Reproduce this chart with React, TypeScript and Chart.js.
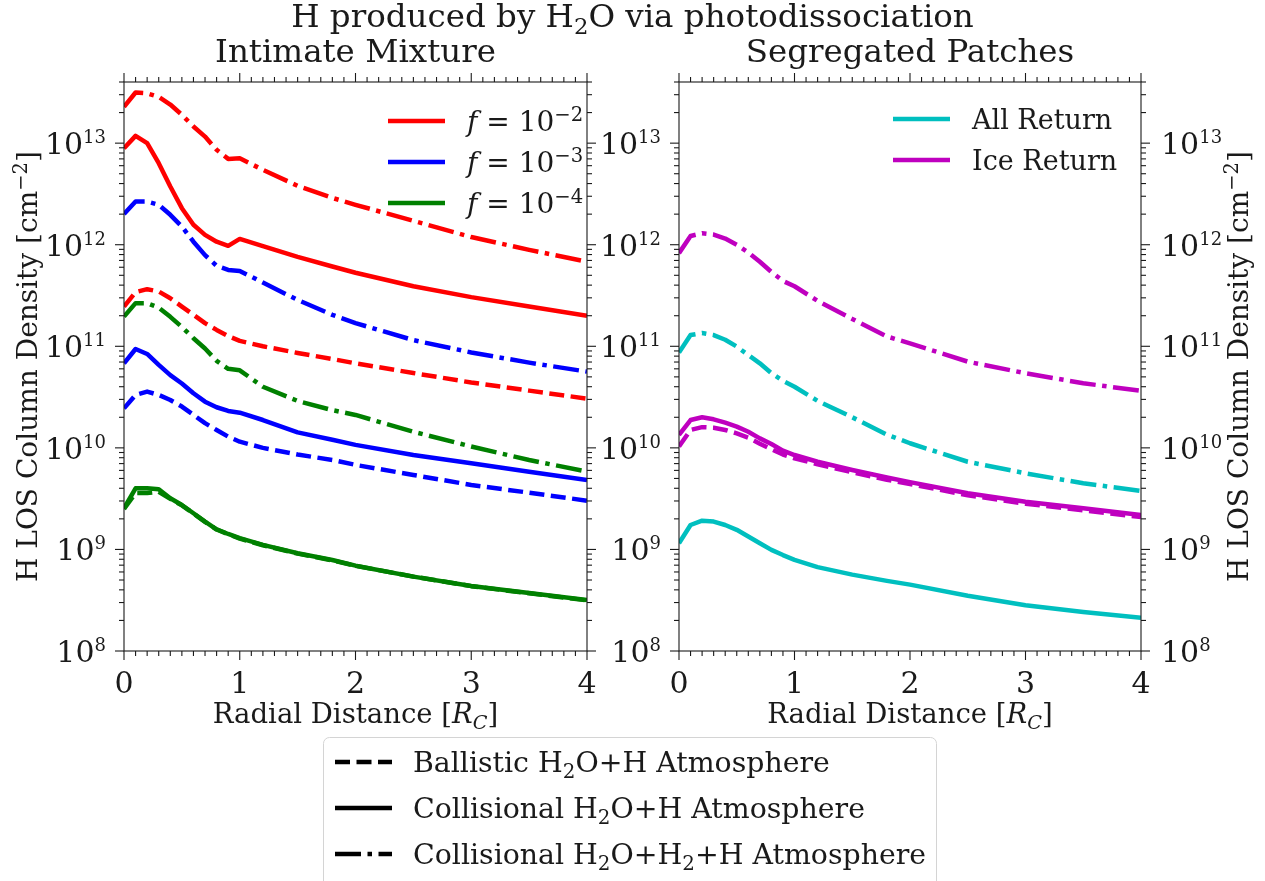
import React, { useEffect, useRef } from 'react';
import { Chart, registerables } from 'chart.js';

Chart.register(...registerables);

// ---------------- data ----------------
const radialDistance = [0, 0.1, 0.2, 0.3, 0.4, 0.5, 0.6, 0.7, 0.8, 0.9, 1.0, 1.2, 1.5, 1.8, 2.0, 2.5, 3.0, 3.5, 4.0];

// Intimate mixture, f = 1e-2
const f2Ballistic = [2.46e11, 3.41e11, 3.65e11, 3.46e11, 2.97e11, 2.46e11, 2.04e11, 1.69e11, 1.45e11, 1.26e11, 1.13e11, 1.0e11, 8.6e10, 7.5e10, 6.8e10, 5.45e10, 4.4e10, 3.66e10, 3.05e10];
const f2Collisional = [8.9e12, 1.18e13, 1.0e13, 6.35e12, 3.74e12, 2.29e12, 1.57e12, 1.25e12, 1.07e12, 9.75e11, 1.14e12, 9.7e11, 7.6e11, 6.1e11, 5.3e11, 3.9e11, 3.05e11, 2.46e11, 2.0e11];
const f2CollisionalH2 = [2.28e13, 3.15e13, 3.1e13, 2.85e13, 2.4e13, 1.9e13, 1.46e13, 1.16e13, 8.6e12, 7.0e12, 7.1e12, 5.46e12, 3.8e12, 2.89e12, 2.47e12, 1.72e12, 1.19e12, 8.9e11, 6.8e11];
// f = 1e-3
const f3Ballistic = [2.45e10, 3.32e10, 3.58e10, 3.32e10, 2.96e10, 2.55e10, 2.11e10, 1.75e10, 1.5e10, 1.29e10, 1.15e10, 1.0e10, 8.6e9, 7.6e9, 6.8e9, 5.41e9, 4.31e9, 3.62e9, 3.02e9];
const f3Collisional = [6.8e10, 9.4e10, 8.4e10, 6.56e10, 5.2e10, 4.3e10, 3.45e10, 2.85e10, 2.51e10, 2.31e10, 2.22e10, 1.88e10, 1.42e10, 1.2e10, 1.07e10, 8.5e9, 7.06e9, 5.83e9, 4.83e9];
const f3CollisionalH2 = [2.01e12, 2.66e12, 2.66e12, 2.47e12, 1.97e12, 1.51e12, 1.07e12, 7.9e11, 6.2e11, 5.65e11, 5.52e11, 4.24e11, 2.86e11, 2.04e11, 1.69e11, 1.15e11, 8.7e10, 6.9e10, 5.63e10];
// f = 1e-4
const f4Ballistic = [2.5e9, 3.6e9, 3.6e9, 3.7e9, 3.15e9, 2.72e9, 2.26e9, 1.87e9, 1.57e9, 1.41e9, 1.28e9, 1.1e9, 9.1e8, 7.8e8, 6.9e8, 5.4e8, 4.35e8, 3.7e8, 3.15e8];
const f4Collisional = [2.54e9, 4.0e9, 4.0e9, 3.91e9, 3.19e9, 2.74e9, 2.27e9, 1.88e9, 1.58e9, 1.42e9, 1.29e9, 1.11e9, 9.16e8, 7.87e8, 6.92e8, 5.4e8, 4.37e8, 3.72e8, 3.18e8];
const f4CollisionalH2 = [1.96e11, 2.66e11, 2.66e11, 2.4e11, 1.95e11, 1.55e11, 1.2e11, 9.5e10, 7.2e10, 6.0e10, 5.8e10, 4.0e10, 2.9e10, 2.35e10, 2.11e10, 1.44e10, 1.03e10, 7.6e9, 5.83e9];

// Segregated patches
const allCollisional = [1.15e9, 1.74e9, 1.92e9, 1.88e9, 1.74e9, 1.56e9, 1.34e9, 1.15e9, 9.9e8, 8.8e8, 7.9e8, 6.7e8, 5.65e8, 4.9e8, 4.5e8, 3.5e8, 2.82e8, 2.42e8, 2.13e8];
const allCollisionalH2 = [8.67e10, 1.29e11, 1.35e11, 1.29e11, 1.16e11, 9.93e10, 8.2e10, 6.8e10, 5.43e10, 4.56e10, 4.0e10, 2.9e10, 2.0e10, 1.35e10, 1.11e10, 7.3e9, 5.62e9, 4.48e9, 3.77e9];
const iceBallistic = [1.03e10, 1.5e10, 1.6e10, 1.58e10, 1.5e10, 1.39e10, 1.26e10, 1.1e10, 9.7e9, 8.6e9, 7.9e9, 6.9e9, 5.75e9, 4.85e9, 4.4e9, 3.42e9, 2.82e9, 2.42e9, 2.08e9];
const iceCollisional = [1.34e10, 1.88e10, 2.0e10, 1.91e10, 1.77e10, 1.62e10, 1.44e10, 1.24e10, 1.09e10, 9.4e9, 8.5e9, 7.3e9, 6.06e9, 5.1e9, 4.6e9, 3.57e9, 2.95e9, 2.54e9, 2.18e9];
const iceCollisionalH2 = [8.26e11, 1.22e12, 1.3e12, 1.26e12, 1.15e12, 1.0e12, 8.4e11, 6.8e11, 5.4e11, 4.4e11, 3.9e11, 2.8e11, 1.86e11, 1.25e11, 1.07e11, 7.06e10, 5.43e10, 4.33e10, 3.64e10];

// axes / ticks
const xMajorTicks = [0, 1, 2, 3, 4];
const xTickLabels = ['0', '1', '2', '3', '4'];
const yMajorExponents = [8, 9, 10, 11, 12, 13];
const X_MIN = 0;
const X_MAX = 4;
const Y_MIN = 1e8;
const Y_MAX = 4e13;

const fractionExponents = ['\u22122', '\u22123', '\u22124'];
const patchLabels = ['All Return', 'Ice Return'];

// ---------------- styles ----------------
const W = 1265;
const H = 881;
const FONT = '"DejaVu Serif", "Liberation Serif", serif';
const LINE_W = 4.5;
const SOLID: number[] = [];
const DASHED = [15, 6.5];
const DASHDOT = [26, 6.5, 4.5, 6.5];
const RED = '#ff0000';
const BLUE = '#0000ff';
const GREEN = '#008000';
const CYAN = '#00bfbf';
const MAGENTA = '#bf00bf';
const INK = '#1a1a1a';

type Seg = { t: string; sup?: boolean; sub?: boolean; it?: boolean };

function drawRich(
  ctx: CanvasRenderingContext2D,
  segs: Seg[],
  x: number,
  y: number,
  size: number,
  align: 'left' | 'center' | 'right',
  supScale = 0.7,
  supRise = 0.36
) {
  const parts = segs.map((s) => {
    const sz = s.sup ? size * supScale : s.sub ? size * 0.7 : size;
    const font = `${s.it ? 'italic ' : ''}${sz}px ${FONT}`;
    ctx.font = font;
    return { t: s.t, font, w: ctx.measureText(s.t).width, dy: s.sup ? -size * supRise : s.sub ? size * 0.2 : 0 };
  });
  const total = parts.reduce((a, p) => a + p.w, 0);
  let cx = align === 'left' ? x : align === 'center' ? x - total / 2 : x - total;
  ctx.textAlign = 'left';
  ctx.textBaseline = 'alphabetic';
  for (const p of parts) {
    ctx.font = p.font;
    ctx.fillText(p.t, cx, y + p.dy);
    cx += p.w;
  }
  return total;
}

function sampleLine(ctx: CanvasRenderingContext2D, x1: number, x2: number, y: number, color: string, dash: number[]) {
  ctx.save();
  ctx.strokeStyle = color;
  ctx.lineWidth = LINE_W;
  ctx.setLineDash(dash);
  ctx.lineCap = 'butt';
  ctx.beginPath();
  ctx.moveTo(x1, y);
  ctx.lineTo(x2, y);
  ctx.stroke();
  ctx.restore();
}

function series(label: string, values: number[], color: string, dash: number[]) {
  return {
    label,
    data: radialDistance.map((x, i) => ({ x, y: values[i] })),
    borderColor: color,
    backgroundColor: color,
    borderWidth: LINE_W,
    borderDash: dash,
    borderCapStyle: 'butt' as const,
    borderJoinStyle: 'round' as const,
    pointRadius: 0,
    pointHoverRadius: 0,
    fill: false,
    tension: 0,
    clip: 0,
  };
}

type PanelCfg = {
  id: string;
  subtitle: string;
  leftLabels: boolean;
  rightLabels: boolean;
  leftTitle: boolean;
  rightTitle: boolean;
  legend: (ctx: CanvasRenderingContext2D, a: any) => void;
  figure: boolean;
};

const yTitle: Seg[] = [{ t: 'H LOS Column Density [cm' }, { t: '\u22122', sup: true }, { t: ']' }];
const xTitle: Seg[] = [{ t: 'Radial Distance [' }, { t: 'R', it: true }, { t: 'C', sub: true, it: true }, { t: ']' }];

function decorPlugin(cfg: PanelCfg) {
  return {
    id: cfg.id,
    afterDatasetsDraw(chart: any) {
      const ctx: CanvasRenderingContext2D = chart.ctx;
      const a = chart.chartArea;
      const xs = chart.scales.x;
      const ys = chart.scales.y;
      ctx.save();
      ctx.strokeStyle = INK;
      ctx.fillStyle = INK;
      ctx.lineWidth = 1.1;
      ctx.setLineDash([]);
      ctx.strokeRect(a.left, a.top, a.right - a.left, a.bottom - a.top);
      const seg = (x1: number, y1: number, x2: number, y2: number) => {
        ctx.beginPath();
        ctx.moveTo(x1, y1);
        ctx.lineTo(x2, y2);
        ctx.stroke();
      };
      // x ticks (major + minor every 0.1)
      for (let i = 0; i <= 40; i++) {
        const v = X_MIN + (i / 40) * (X_MAX - X_MIN);
        const px = xs.getPixelForValue(v);
        const len = i % 10 === 0 ? 9 : 5;
        seg(px, a.bottom, px, a.bottom + len);
        seg(px, a.top, px, a.top - len);
      }
      // y ticks
      for (const e of yMajorExponents) {
        for (let m = 1; m <= 9; m++) {
          const v = m * Math.pow(10, e);
          if (v > Y_MAX * 1.0001) break;
          const py = ys.getPixelForValue(v);
          const len = m === 1 ? 9 : 5;
          seg(a.left, py, a.left - len, py);
          seg(a.right, py, a.right + len, py);
        }
      }
      const TS = 30;
      // x tick labels
      xMajorTicks.forEach((v, i) => {
        drawRich(ctx, [{ t: xTickLabels[i] }], xs.getPixelForValue(v), a.bottom + 42, TS, 'center');
      });
      // y tick labels
      for (const e of yMajorExponents) {
        const py = ys.getPixelForValue(Math.pow(10, e));
        const segs: Seg[] = [{ t: '10' }, { t: String(e), sup: true }];
        if (cfg.leftLabels) drawRich(ctx, segs, a.left - 18, py + 11, TS, 'right', 0.6, 0.37);
        if (cfg.rightLabels) drawRich(ctx, segs, a.right + 20, py + 11, TS, 'left', 0.6, 0.37);
      }
      const cx = (a.left + a.right) / 2;
      // x title
      drawRich(ctx, xTitle, cx, a.bottom + 72, 27.5, 'center');
      // subtitle
      drawRich(ctx, [{ t: cfg.subtitle }], cx, a.top - 20, 32.5, 'center');
      const cy = (a.top + a.bottom) / 2;
      if (cfg.leftTitle) {
        ctx.save();
        ctx.translate(a.left - 87, cy);
        ctx.rotate(-Math.PI / 2);
        drawRich(ctx, yTitle, 0, 0, 28, 'center');
        ctx.restore();
      }
      if (cfg.rightTitle) {
        ctx.save();
        ctx.translate(a.right + 107, cy);
        ctx.rotate(-Math.PI / 2);
        drawRich(ctx, yTitle, 0, 0, 28, 'center');
        ctx.restore();
      }
      cfg.legend(ctx, a);
      if (cfg.figure) {
        ctx.fillStyle = INK;
        drawRich(ctx, [{ t: 'H produced by H' }, { t: '2', sub: true }, { t: 'O via photodissociation' }], W / 2, 27, 32.5, 'center');
        // bottom legend box
        ctx.save();
        ctx.fillStyle = 'rgba(255,255,255,0.9)';
        ctx.strokeStyle = '#d4d4d4';
        ctx.lineWidth = 1;
        ctx.beginPath();
        (ctx as any).roundRect(323.5, 737.5, 613, 170, 6);
        ctx.fill();
        ctx.stroke();
        ctx.restore();
        const rows: { dash: number[]; segs: Seg[] }[] = [
          { dash: DASHED, segs: [{ t: 'Ballistic H' }, { t: '2', sub: true }, { t: 'O+H Atmosphere' }] },
          { dash: SOLID, segs: [{ t: 'Collisional H' }, { t: '2', sub: true }, { t: 'O+H Atmosphere' }] },
          { dash: DASHDOT, segs: [{ t: 'Collisional H' }, { t: '2', sub: true }, { t: 'O+H' }, { t: '2', sub: true }, { t: '+H Atmosphere' }] },
        ];
        rows.forEach((r, i) => {
          const y = 762 + i * 46;
          sampleLine(ctx, 335, 392, y, '#000', r.dash);
          ctx.fillStyle = INK;
          drawRich(ctx, r.segs, 413, y + 10, 28.4, 'left');
        });
      }
      ctx.restore();
    },
  };
}

const leftDatasets = [
  series('f=1e-2 ballistic', f2Ballistic, RED, DASHED),
  series('f=1e-2 collisional', f2Collisional, RED, SOLID),
  series('f=1e-2 collisional H2', f2CollisionalH2, RED, DASHDOT),
  series('f=1e-3 ballistic', f3Ballistic, BLUE, DASHED),
  series('f=1e-3 collisional', f3Collisional, BLUE, SOLID),
  series('f=1e-3 collisional H2', f3CollisionalH2, BLUE, DASHDOT),
  series('f=1e-4 ballistic', f4Ballistic, GREEN, DASHED),
  series('f=1e-4 collisional', f4Collisional, GREEN, SOLID),
  series('f=1e-4 collisional H2', f4CollisionalH2, GREEN, DASHDOT),
];

const rightDatasets = [
  series('All Return collisional', allCollisional, CYAN, SOLID),
  series('All Return collisional H2', allCollisionalH2, CYAN, DASHDOT),
  series('Ice Return ballistic', iceBallistic, MAGENTA, DASHED),
  series('Ice Return collisional', iceCollisional, MAGENTA, SOLID),
  series('Ice Return collisional H2', iceCollisionalH2, MAGENTA, DASHDOT),
];

const leftLegend = (ctx: CanvasRenderingContext2D, a: any) => {
  const colors = [RED, BLUE, GREEN];
  fractionExponents.forEach((ex, i) => {
    const y = a.top + 39 + i * 41;
    sampleLine(ctx, 388, 445, y, colors[i], SOLID);
    ctx.fillStyle = INK;
    drawRich(ctx, [{ t: 'f', it: true }, { t: ' = 10' }, { t: ex, sup: true }], 467, y + 10, 28, 'left');
  });
};

const rightLegend = (ctx: CanvasRenderingContext2D, a: any) => {
  const colors = [CYAN, MAGENTA];
  patchLabels.forEach((lab, i) => {
    const y = a.top + 37 + i * 41;
    sampleLine(ctx, 893, 950, y, colors[i], SOLID);
    ctx.fillStyle = INK;
    drawRich(ctx, [{ t: lab }], 972, y + 10, 27, 'left');
  });
};

function makeConfig(datasets: any[], padding: any, plugin: any) {
  return {
    type: 'line' as const,
    data: { datasets },
    options: {
      animation: false as const,
      responsive: false,
      maintainAspectRatio: false,
      events: [] as any[],
      layout: { padding, autoPadding: false },
      scales: {
        x: { type: 'linear' as const, min: X_MIN, max: X_MAX, display: false },
        y: { type: 'logarithmic' as const, min: Y_MIN, max: Y_MAX, display: false },
      },
      plugins: { legend: { display: false }, tooltip: { enabled: false }, title: { display: false } },
    },
    plugins: [plugin],
  };
}

export default function App() {
  const leftRef = useRef<HTMLCanvasElement>(null);
  const rightRef = useRef<HTMLCanvasElement>(null);

  useEffect(() => {
    if (!leftRef.current || !rightRef.current) return;
    const left = new Chart(
      leftRef.current,
      makeConfig(
        leftDatasets,
        { left: 124, top: 82, right: 678, bottom: 230 },
        decorPlugin({ id: 'leftDecor', subtitle: 'Intimate Mixture', leftLabels: true, rightLabels: false, leftTitle: true, rightTitle: false, legend: leftLegend, figure: true })
      ) as any
    );
    const right = new Chart(
      rightRef.current,
      makeConfig(
        rightDatasets,
        { left: 679, top: 82, right: 124, bottom: 230 },
        decorPlugin({ id: 'rightDecor', subtitle: 'Segregated Patches', leftLabels: true, rightLabels: true, leftTitle: false, rightTitle: true, legend: rightLegend, figure: false })
      ) as any
    );
    return () => {
      left.destroy();
      right.destroy();
    };
  }, []);

  return (
    <div style={{ position: 'absolute', left: 0, top: 0, width: W, height: H, background: '#ffffff', overflow: 'hidden' }}>
      <canvas ref={leftRef} width={W} height={H} style={{ position: 'absolute', left: 0, top: 0 }} />
      <canvas ref={rightRef} width={W} height={H} style={{ position: 'absolute', left: 0, top: 0 }} />
    </div>
  );
}
